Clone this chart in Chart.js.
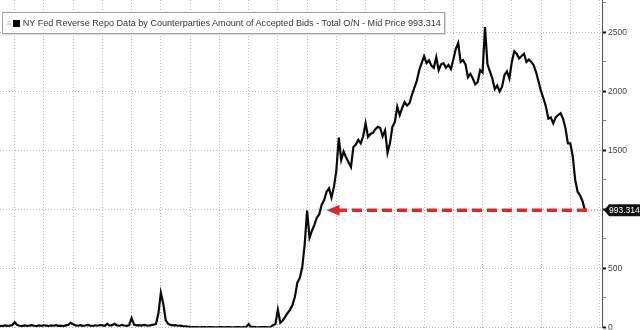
<!DOCTYPE html>
<html>
<head>
<meta charset="utf-8">
<script src="https://cdn.jsdelivr.net/npm/chart.js@4.4.1/dist/chart.umd.min.js"></script>
<style>
  html, body { margin: 0; padding: 0; background: #fff; }
  #wrap { position: relative; width: 640px; height: 330px; }
  #legend {
    position: absolute; left: 2px; top: 12px; height: 20px; padding: 0 3px 0 4px;
    border: 1px solid #a0a0a0; background: #fff;
    font: 9.1px "Liberation Sans", Arial, sans-serif; color: #333; line-height: 20px;
    white-space: nowrap; box-shadow: 1px 1px 1px rgba(0,0,0,0.12);
  }
  #legend .ico { color: #b0b0b0; font-size: 8px; margin-right: 1px; }
  #legend .sq { display: inline-block; width: 7px; height: 7px; background: #000; margin-right: 3px; vertical-align: -1px; }
</style>
</head>
<body>
<div id="wrap">
  <canvas id="repochart"></canvas>
  <div id="legend"><span class="ico">&#8801;</span><span class="sq"></span>NY Fed Reverse Repo Data by Counterparties Amount of Accepted Bids - Total O/N - Mid Price 993.314</div>
</div>
<script>
// weekly points, first one mid Nov 2018
var weekDays = ['01', '08', '15', '22'];
var firstLabel = '2018-11-15';
var labelCount = 248;

// accepted bids, $bn
var values = [
  15, 12, 18, 14, 16, 20, 45,
  22, 15, 12, 18, 14, 16, 20, 15, 12, 17, 14, 19, 16, 13, 18, 15, 20, 14, 16, 12, 18, 22,
  40, 28,
  18, 15, 20, 14, 17, 22, 16, 13, 19, 15, 21, 18, 14, 30, 16, 20, 32, 18, 15, 22, 17, 14, 20,
  80,
  25, 18, 20, 16, 22, 18, 15, 20, 24, 30,
  120, 295, 200, 60,
  30, 22, 18, 20, 15, 16, 12, 10, 8,
  5, 4, 3, 3, 2, 3, 3, 2, 3, 3, 2, 2, 3, 3, 2, 3, 3, 2, 2, 3, 3, 2, 3, 3, 30, 3, 5, 3, 2, 3, 4, 3, 2, 3,
  20, 30, 150,
  40, 60, 90, 123, 150, 190, 260, 380, 420, 510,
  700, 990, 760, 820, 870, 930, 960, 1040, 1080, 1150,
  1180, 1100, 1190, 1330, 1610, 1420, 1490, 1440, 1400, 1360,
  1530, 1550, 1590, 1560, 1620, 1730, 1615, 1640, 1650, 1680,
  1700, 1690, 1620, 1670, 1480, 1560, 1700, 1740, 1870, 1800,
  1860, 1910, 1880, 1900, 1970, 2030, 2090, 2180, 2240, 2300,
  2240, 2265, 2220, 2200, 2290, 2180, 2230, 2240, 2200, 2225,
  2190, 2270, 2360, 2410, 2250, 2265, 2230, 2120, 2150, 2110,
  2060, 2080, 2180, 2160, 2545, 2230, 2170, 2110, 2020, 2050,
  2000, 2040, 2140, 2170, 2110, 2250, 2340, 2320, 2280, 2300,
  2320, 2250, 2270, 2250, 2220, 2160, 2080, 2000, 1940, 1870,
  1770, 1780, 1730, 1780, 1800, 1815, 1770, 1690, 1560, 1560,
  1450, 1250, 1150, 1120, 1070, 993.314
];

var yTicks = [0, 500, 1000, 1500, 2000, 2500];
var yMinorTicks = [250, 750, 1250, 1750, 2250, 2750];
var arrowToIndex = 134;   // where the red arrow points back to

var allLabels = [];
for (var y = 2018; y <= 2024; y++) {
  for (var m = 1; m <= 12; m++) {
    weekDays.forEach(function (d) {
      allLabels.push(y + '-' + (m < 10 ? '0' + m : m) + '-' + d);
    });
  }
}
var start = allLabels.indexOf(firstLabel);
var labels = allLabels.slice(start, start + labelCount);

function isMajor(v) { return yTicks.indexOf(v) >= 0; }

var lastTag = {
  id: 'lastTag',
  afterDatasetsDraw: function (chart) {
    var ctx = chart.ctx, xs = chart.scales.x, ys = chart.scales.y, area = chart.chartArea;
    var last = values.length - 1;
    var x1 = xs.getPixelForValue(last), y1 = ys.getPixelForValue(values[last]);
    var x0 = xs.getPixelForValue(arrowToIndex);

    ctx.save();
    // dotted line to axis
    ctx.strokeStyle = '#9bb0c8';
    ctx.lineWidth = 1;
    ctx.setLineDash([1, 2]);
    ctx.beginPath();
    ctx.moveTo(x1, y1 + 0.5);
    ctx.lineTo(area.right, y1 + 0.5);
    ctx.stroke();

    // red dashed arrow
    ctx.strokeStyle = '#d62b2b';
    ctx.lineWidth = 3.5;
    ctx.setLineDash([10, 5]);
    ctx.beginPath();
    ctx.moveTo(x1 + 2, y1);
    ctx.lineTo(x0 + 11, y1);
    ctx.stroke();
    ctx.setLineDash([]);
    ctx.fillStyle = '#d62b2b';
    ctx.beginPath();
    ctx.moveTo(x0, y1);
    ctx.lineTo(x0 + 13, y1 - 5.5);
    ctx.lineTo(x0 + 13, y1 + 5.5);
    ctx.closePath();
    ctx.fill();

    // price tag on the axis
    var tx = area.right + 2, h = 12;
    ctx.fillStyle = '#111';
    ctx.beginPath();
    ctx.moveTo(tx, y1);
    ctx.lineTo(tx + 5, y1 - h / 2);
    ctx.lineTo(chart.width + 4, y1 - h / 2);
    ctx.lineTo(chart.width + 4, y1 + h / 2);
    ctx.lineTo(tx + 5, y1 + h / 2);
    ctx.closePath();
    ctx.fill();
    ctx.fillStyle = '#fff';
    ctx.font = '8.5px "Liberation Sans", Arial, sans-serif';
    ctx.textBaseline = 'middle';
    ctx.fillText(values[last].toFixed(3), tx + 5, y1 + 0.5);
    ctx.restore();
  }
};

var ctx = document.getElementById('repochart').getContext('2d');
var myChart = new Chart(ctx, {
  type: 'line',
  data: {
    labels: labels,
    datasets: [{
      label: 'Total O/N',
      data: values,
      borderColor: '#0a0a0a',
      borderWidth: 2.2,
      pointRadius: 0,
      tension: 0,
      fill: false
    }]
  },
  options: {
    responsive: true,
    maintainAspectRatio: false,
    animation: false,
    devicePixelRatio: 1,
    layout: { padding: { left: 0, right: 0, top: 0, bottom: 2.5 } },
    plugins: {
      legend: { display: false },
      tooltip: { enabled: false }
    },
    scales: {
      x: {
        type: 'category',
        offset: false,
        ticks: { display: false, autoSkip: false },
        border: { display: false, dash: [1, 2] },
        grid: {
          drawTicks: false,
          color: function (c) { return (c.index - 6) % 12 === 0 ? '#bdbdbd' : 'rgba(0,0,0,0)'; }
        },
        afterFit: function (s) { s.height = 0; s.paddingLeft = 0; s.paddingRight = 0; }
      },
      y: {
        position: 'right',
        min: 0,
        max: 2775,
        border: { display: true, color: '#555', width: 1, dash: [1, 2] },
        grid: {
          color: function (c) { return isMajor(c.tick.value) ? '#bdbdbd' : 'rgba(0,0,0,0)'; },
          tickLength: 4,
          tickColor: function (c) { return isMajor(c.tick.value) ? '#111' : '#888'; },
          tickWidth: function (c) { return isMajor(c.tick.value) ? 2 : 1; }
        },
        ticks: {
          autoSkip: false,
          padding: 2,
          color: '#444',
          font: { family: '"Liberation Sans", Arial, sans-serif', size: 8.5 },
          callback: function (v) { return isMajor(v) ? v : ''; }
        },
        afterBuildTicks: function (s) {
          s.ticks = yTicks.concat(yMinorTicks).sort(function (a, b) { return a - b; })
            .map(function (v) { return { value: v }; });
        },
        afterFit: function (s) { s.width = 38; s.paddingTop = 0; s.paddingBottom = 0; }
      }
    }
  },
  plugins: [lastTag]
});
</script>
</body>
</html>
